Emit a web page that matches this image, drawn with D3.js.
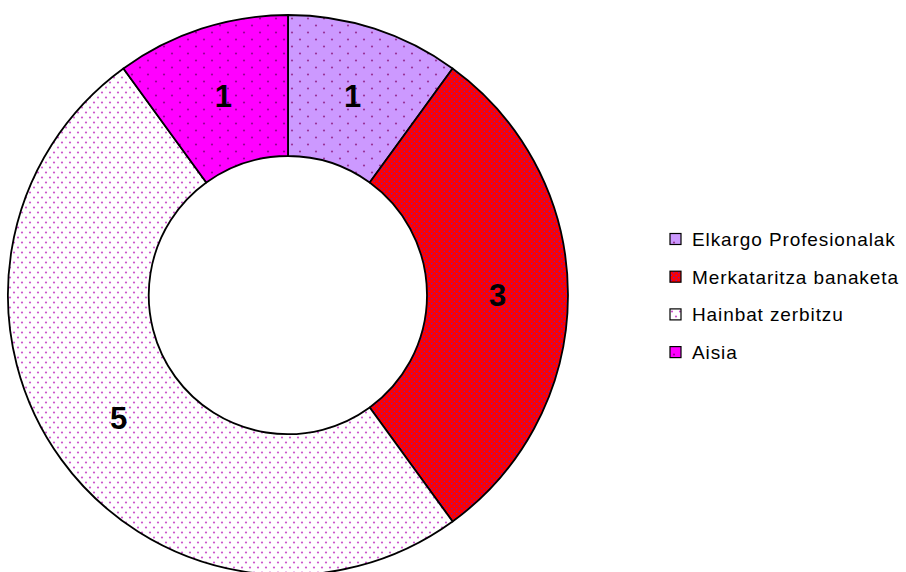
<!DOCTYPE html>
<html>
<head>
<meta charset="utf-8">
<script src="https://cdn.jsdelivr.net/npm/d3@7"></script>
<style>
  body { margin: 0; background: #fff; }
  svg { display: block; }
</style>
</head>
<body>
<div id="chart"></div>
<script>
var width = 906;
var height = 572;

// data
var categories = ["Elkargo Profesionalak", "Merkataritza banaketa", "Hainbat zerbitzu", "Aisia"];
var values = [1, 3, 5, 1];

var fills = ["#cc99ff", "#ff0000", "#ffffff", "#ff00ff"];
var dotColors = ["#993399", "#5522cc", "#cc55cc", "#990099"];
// pattern tile [w, h] with dots at (w/4,h/4) and (3w/4,3h/4)
var tiles = [[16, 14], [5, 5], [8, 10], [16, 14]];

var svg = d3.select("#chart")
  .append("svg")
  .attr("width", width)
  .attr("height", height);

var defs = svg.append("defs");

categories.forEach(function(c, i){
  var w = tiles[i][0], h = tiles[i][1];
  var p = defs.append("pattern")
    .attr("id", "pat" + i)
    .attr("patternUnits", "userSpaceOnUse")
    .attr("width", w)
    .attr("height", h);
  p.append("rect").attr("width", w).attr("height", h).attr("fill", fills[i]);
  var r = i == 1 ? 0.75 : 1.1;
  [[w / 4, h / 4], [w * 3 / 4, h * 3 / 4]].forEach(function(pt){
    p.append("circle")
      .attr("cx", pt[0]).attr("cy", pt[1]).attr("r", r)
      .attr("fill", dotColors[i]);
  });
});

var cx = 288, cy = 295;
var outerR = 280, innerR = 139;

var pie = d3.pie().sort(null).value(function(d){ return d; });
var arc = d3.arc().innerRadius(innerR).outerRadius(outerR);

var g = svg.append("g").attr("transform", "translate(" + cx + "," + cy + ")");

var arcs = pie(values);

g.selectAll("path")
  .data(arcs)
  .enter()
  .append("path")
  .attr("d", arc)
  .attr("fill", function(d, i){ return "url(#pat" + i + ")"; })
  .attr("stroke", "#000")
  .attr("stroke-width", 1.8)
  .attr("stroke-linejoin", "round");

g.selectAll("text.lbl")
  .data(arcs)
  .enter()
  .append("text")
  .attr("class", "lbl")
  .attr("x", function(d){ return arc.centroid(d)[0]; })
  .attr("y", function(d){ return arc.centroid(d)[1] + 11; })
  .attr("text-anchor", "middle")
  .attr("font-family", "Liberation Sans, Arial, sans-serif")
  .attr("font-weight", "bold")
  .attr("font-size", 31)
  .text(function(d){ return d.data; });

// legend
var legend = svg.append("g").attr("transform", "translate(670,239)");
var rowH = 37.7;

legend.selectAll("rect")
  .data(categories)
  .enter()
  .append("rect")
  .attr("x", 0)
  .attr("y", function(d, i){ return i * rowH - 5.5; })
  .attr("width", 11)
  .attr("height", 11)
  .attr("fill", function(d, i){ return "url(#pat" + i + ")"; })
  .attr("stroke", "#000")
  .attr("stroke-width", 1.2);

legend.selectAll("text")
  .data(categories)
  .enter()
  .append("text")
  .attr("x", 22)
  .attr("y", function(d, i){ return i * rowH + 7; })
  .attr("font-family", "Liberation Sans, Arial, sans-serif")
  .attr("font-size", 19)
  .attr("letter-spacing", 0.9)
  .text(function(d){ return d; });
</script>
</body>
</html>
